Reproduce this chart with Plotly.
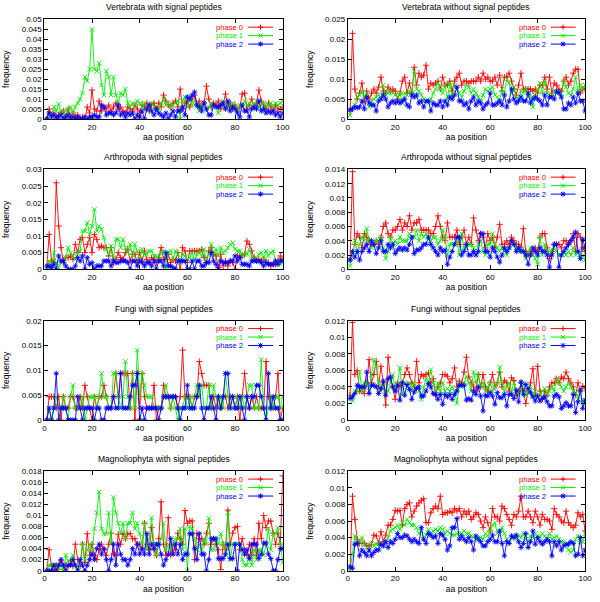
import plotly.graph_objects as go

positions = list(range(1, 101))
phase_names = ["phase 0", "phase 1", "phase 2"]

panel_titles = [
    "Vertebrata with signal peptides", "Vertebrata without signal peptides",
    "Arthropoda with signal peptides", "Arthropoda without signal peptides",
    "Fungi with signal peptides", "Fungi without signal peptides",
    "Magnoliophyta with signal peptides", "Magnoliophyta without signal peptides",
]
y_max = [0.05, 0.025, 0.03, 0.014, 0.02, 0.012, 0.018, 0.012]
y_step = [0.005, 0.005, 0.005, 0.002, 0.005, 0.002, 0.002, 0.002]
x_ticks = [0, 20, 40, 60, 80, 100]

vert_sp_0 = [0.0, 0.005, 0.002, 0.003, 0.0, 0.002, 0.003, 0.004, 0.001, 0.005,
             0.001, 0.003, 0.001, 0.002, 0.0, 0.001, 0.0, 0.006, 0.003, 0.0145,
             0.005, 0.004, 0.009, 0.004, 0.006, 0.005, 0.007, 0.004, 0.006, 0.008,
             0.005, 0.006, 0.004, 0.003, 0.006, 0.005, 0.004, 0.007, 0.005, 0.003,
             0.007, 0.006, 0.008, 0.004, 0.007, 0.008, 0.005, 0.008, 0.006, 0.012,
             0.009, 0.007, 0.006, 0.008, 0.009, 0.006, 0.015, 0.005, 0.008, 0.009,
             0.006, 0.01, 0.012, 0.007, 0.009, 0.006, 0.008, 0.0165, 0.01, 0.006,
             0.008, 0.007, 0.009, 0.005, 0.007, 0.0125, 0.006, 0.008, 0.005, 0.007,
             0.004, 0.006, 0.0125, 0.013, 0.005, 0.007, 0.01, 0.006, 0.008, 0.0145,
             0.009, 0.007, 0.005, 0.008, 0.006, 0.004, 0.007, 0.005, 0.005, 0.006]
vert_sp_1 = [0.0, 0.003, 0.002, 0.006, 0.004, 0.0075, 0.003, 0.004, 0.002, 0.005,
             0.006, 0.003, 0.006, 0.008, 0.01, 0.013, 0.021, 0.019, 0.025, 0.045,
             0.025, 0.024, 0.028, 0.017, 0.012, 0.024, 0.021, 0.012, 0.021, 0.012,
             0.008, 0.013, 0.012, 0.015, 0.008, 0.006, 0.008, 0.007, 0.009, 0.008,
             0.006, 0.008, 0.004, 0.006, 0.008, 0.006, 0.004, 0.005, 0.008, 0.01,
             0.007, 0.008, 0.006, 0.007, 0.008, 0.009, 0.0, 0.009, 0.011, 0.006,
             0.011, 0.007, 0.009, 0.006, 0.004, 0.007, 0.008, 0.004, 0.006, 0.008,
             0.007, 0.006, 0.003, 0.007, 0.009, 0.006, 0.007, 0.005, 0.008, 0.006,
             0.004, 0.007, 0.006, 0.009, 0.007, 0.008, 0.006, 0.007, 0.009, 0.006,
             0.007, 0.008, 0.006, 0.007, 0.008, 0.006, 0.008, 0.007, 0.008, 0.009]
vert_sp_2 = [0.0, 0.003, 0.001, 0.002, 0.001, 0.001, 0.002, 0.0, 0.001, 0.002,
             0.0, 0.001, 0.0, 0.001, 0.0, 0.0, 0.001, 0.0, 0.001, 0.001,
             0.002, 0.001, 0.001, 0.007, 0.006, 0.002, 0.003, 0.003, 0.002, 0.003,
             0.007, 0.002, 0.003, 0.001, 0.003, 0.002, 0.003, 0.0, 0.002, 0.001,
             0.004, 0.0, 0.005, 0.007, 0.004, 0.002, 0.005, 0.003, 0.002, 0.001,
             0.003, 0.0, 0.002, 0.004, 0.001, 0.004, 0.004, 0.006, 0.002, 0.011,
             0.01, 0.012, 0.0135, 0.007, 0.006, 0.004, 0.008, 0.005, 0.002, 0.002,
             0.007, 0.006, 0.006, 0.007, 0.008, 0.005, 0.009, 0.004, 0.006, 0.005,
             0.003, 0.001, 0.007, 0.004, 0.004, 0.001, 0.005, 0.006, 0.005, 0.009,
             0.004, 0.005, 0.003, 0.004, 0.003, 0.004, 0.002, 0.003, 0.001, 0.003]

vert_nosp_0 = [0.002, 0.0215, 0.0075, 0.005, 0.0065, 0.009, 0.0045, 0.007, 0.005, 0.0065,
               0.0075, 0.0065, 0.008, 0.0105, 0.007, 0.0065, 0.008, 0.007, 0.0075, 0.007,
               0.005, 0.0065, 0.0095, 0.0105, 0.0065, 0.009, 0.0065, 0.013, 0.0085, 0.0115,
               0.0105, 0.011, 0.0135, 0.0075, 0.009, 0.0085, 0.009, 0.0095, 0.0075, 0.0105,
               0.0085, 0.0085, 0.0095, 0.007, 0.0095, 0.0105, 0.0115, 0.0085, 0.0095, 0.0095,
               0.009, 0.0095, 0.0095, 0.0095, 0.0105, 0.0095, 0.0115, 0.01, 0.0105, 0.0095,
               0.0095, 0.0105, 0.0085, 0.011, 0.007, 0.0105, 0.0105, 0.0115, 0.0095, 0.0075,
               0.006, 0.0085, 0.0115, 0.0075, 0.0075, 0.0075, 0.0075, 0.007, 0.0075, 0.0065,
               0.0085, 0.0085, 0.0105, 0.0075, 0.0105, 0.0065, 0.009, 0.0085, 0.0075, 0.007,
               0.0095, 0.0105, 0.0085, 0.0095, 0.0115, 0.0125, 0.0125, 0.0065, 0.0075, 0.0075]
vert_nosp_1 = [0.001, 0.003, 0.0035, 0.0055, 0.006, 0.007, 0.0055, 0.0065, 0.003, 0.0045,
               0.005, 0.0055, 0.006, 0.005, 0.0085, 0.006, 0.0065, 0.007, 0.0065, 0.006,
               0.0055, 0.0065, 0.004, 0.0065, 0.006, 0.007, 0.0065, 0.012, 0.0075, 0.007,
               0.006, 0.005, 0.0045, 0.004, 0.005, 0.0065, 0.0075, 0.009, 0.0075, 0.0065,
               0.0085, 0.005, 0.009, 0.0055, 0.0085, 0.0075, 0.0065, 0.0055, 0.007, 0.0085,
               0.008, 0.0065, 0.0075, 0.0065, 0.0055, 0.0045, 0.006, 0.0075, 0.007, 0.0075,
               0.008, 0.006, 0.0055, 0.0045, 0.0075, 0.0065, 0.01, 0.009, 0.0065, 0.008,
               0.0055, 0.005, 0.007, 0.0065, 0.0075, 0.0055, 0.006, 0.003, 0.006, 0.0075,
               0.009, 0.0065, 0.0095, 0.0065, 0.006, 0.0055, 0.007, 0.0065, 0.007, 0.0055,
               0.0095, 0.008, 0.0065, 0.006, 0.0075, 0.0105, 0.007, 0.0085, 0.0075, 0.0085]
vert_nosp_2 = [0.0023, 0.0025, 0.003, 0.0028, 0.003, 0.0045, 0.0025, 0.0055, 0.004, 0.0035,
               0.0035, 0.002, 0.0045, 0.005, 0.006, 0.005, 0.003, 0.004, 0.0045, 0.004,
               0.0045, 0.004, 0.0045, 0.005, 0.0035, 0.003, 0.006, 0.0055, 0.006, 0.004,
               0.0045, 0.003, 0.0045, 0.0045, 0.002, 0.004, 0.0035, 0.0035, 0.0045, 0.003,
               0.0045, 0.0035, 0.0055, 0.005, 0.006, 0.008, 0.0045, 0.0045, 0.0035, 0.004,
               0.0025, 0.0045, 0.0055, 0.0035, 0.0045, 0.004, 0.0025, 0.0035, 0.004, 0.0065,
               0.0035, 0.0035, 0.004, 0.0045, 0.0035, 0.006, 0.003, 0.0045, 0.0075, 0.005,
               0.004, 0.0045, 0.0055, 0.0045, 0.0045, 0.0065, 0.004, 0.005, 0.0055, 0.005,
               0.0045, 0.0035, 0.006, 0.0035, 0.0055, 0.0055, 0.005, 0.007, 0.0065, 0.0055,
               0.0025, 0.0025, 0.004, 0.0035, 0.0055, 0.004, 0.0065, 0.0045, 0.0045, 0.002]

arth_sp_0 = [0.0, 0.0105, 0.0025, 0.002, 0.026, 0.013, 0.0065, 0.002, 0.0035, 0.0035,
             0.004, 0.003, 0.0075, 0.005, 0.009, 0.0095, 0.005, 0.0075, 0.0095, 0.005,
             0.0105, 0.009, 0.0065, 0.007, 0.0065, 0.0065, 0.004, 0.0065, 0.002, 0.003,
             0.005, 0.0035, 0.003, 0.005, 0.006, 0.0025, 0.0045, 0.0045, 0.002, 0.005,
             0.0025, 0.0055, 0.003, 0.002, 0.0035, 0.003, 0.002, 0.0035, 0.0065, 0.003,
             0.003, 0.0045, 0.002, 0.003, 0.0025, 0.005, 0.0, 0.0065, 0.0055, 0.002,
             0.0055, 0.0055, 0.0055, 0.0055, 0.0055, 0.006, 0.0035, 0.002, 0.0055, 0.0065,
             0.0045, 0.004, 0.0005, 0.0045, 0.001, 0.0025, 0.001, 0.0025, 0.002, 0.0,
             0.004, 0.004, 0.004, 0.0045, 0.0085, 0.0075, 0.0055, 0.0035, 0.0025, 0.003,
             0.0025, 0.003, 0.002, 0.002, 0.001, 0.0015, 0.0015, 0.0025, 0.004, 0.003]
arth_sp_1 = [0.0, 0.0025, 0.001, 0.005, 0.002, 0.0005, 0.002, 0.0025, 0.0035, 0.0065,
             0.005, 0.004, 0.003, 0.005, 0.0055, 0.0115, 0.0115, 0.014, 0.0105, 0.013,
             0.018, 0.0115, 0.013, 0.012, 0.0095, 0.006, 0.0045, 0.007, 0.0035, 0.009,
             0.009, 0.0065, 0.009, 0.0065, 0.005, 0.0075, 0.004, 0.0075, 0.0055, 0.003,
             0.006, 0.0045, 0.0045, 0.0055, 0.0055, 0.004, 0.004, 0.003, 0.005, 0.0055,
             0.0, 0.005, 0.0055, 0.003, 0.0055, 0.0045, 0.002, 0.0045, 0.004, 0.003,
             0.0035, 0.005, 0.003, 0.0045, 0.0055, 0.004, 0.006, 0.0025, 0.0045, 0.0075,
             0.0045, 0.006, 0.004, 0.0065, 0.005, 0.0055, 0.0065, 0.0075, 0.008, 0.006,
             0.0055, 0.0055, 0.004, 0.0045, 0.0045, 0.006, 0.004, 0.0025, 0.0035, 0.0045,
             0.005, 0.003, 0.0055, 0.004, 0.005, 0.0055, 0.0025, 0.002, 0.0015, 0.003]
arth_sp_2 = [0.001, 0.001, 0.0005, 0.0015, 0.0, 0.004, 0.0025, 0.0025, 0.001, 0.0,
             0.0, 0.0, 0.001, 0.0035, 0.0025, 0.004, 0.0, 0.0035, 0.0015, 0.002,
             0.0, 0.001, 0.001, 0.001, 0.0025, 0.0025, 0.0025, 0.001, 0.0025, 0.002,
             0.002, 0.0025, 0.0025, 0.0025, 0.002, 0.0, 0.0025, 0.0025, 0.001, 0.0025,
             0.002, 0.001, 0.002, 0.002, 0.001, 0.0025, 0.0, 0.0025, 0.0025, 0.001,
             0.005, 0.001, 0.001, 0.0005, 0.0, 0.0025, 0.0025, 0.0025, 0.0025, 0.0,
             0.0, 0.0025, 0.0, 0.0025, 0.0025, 0.001, 0.001, 0.002, 0.002, 0.005,
             0.0025, 0.0015, 0.0, 0.0025, 0.002, 0.002, 0.002, 0.0025, 0.0025, 0.004,
             0.0025, 0.0035, 0.0015, 0.0015, 0.0015, 0.001, 0.0025, 0.0025, 0.0025, 0.0025,
             0.002, 0.001, 0.002, 0.0015, 0.0015, 0.0015, 0.0025, 0.0015, 0.0025, 0.0025]

arth_nosp_0 = [0.0013, 0.0137, 0.0035, 0.005, 0.0045, 0.003, 0.005, 0.0045, 0.004, 0.0035,
               0.0035, 0.004, 0.0035, 0.0045, 0.006, 0.0065, 0.005, 0.0045, 0.0055, 0.0055,
               0.006, 0.007, 0.0055, 0.0065, 0.006, 0.0075, 0.0055, 0.0065, 0.0065, 0.007,
               0.0055, 0.0055, 0.0055, 0.0055, 0.005, 0.005, 0.006, 0.0075, 0.006, 0.0045,
               0.004, 0.0065, 0.0045, 0.0045, 0.0045, 0.0055, 0.0035, 0.0045, 0.0055, 0.0035,
               0.0045, 0.0035, 0.0072, 0.0055, 0.004, 0.005, 0.0045, 0.003, 0.005, 0.004,
               0.0045, 0.003, 0.0045, 0.0063, 0.0035, 0.0035, 0.004, 0.0035, 0.0045, 0.004,
               0.0035, 0.0035, 0.003, 0.0057, 0.0025, 0.002, 0.0025, 0.0025, 0.003, 0.0025,
               0.0045, 0.005, 0.005, 0.003, 0.0015, 0.0025, 0.0035, 0.0035, 0.0035, 0.003,
               0.004, 0.004, 0.0035, 0.004, 0.005, 0.0025, 0.005, 0.0045, 0.003, 0.0025]
arth_nosp_1 = [0.0005, 0.002, 0.004, 0.0025, 0.0035, 0.0045, 0.004, 0.0057, 0.004, 0.003,
               0.0035, 0.004, 0.004, 0.0045, 0.003, 0.0015, 0.0025, 0.0045, 0.0035, 0.004,
               0.0035, 0.0045, 0.004, 0.004, 0.004, 0.005, 0.0045, 0.0045, 0.0055, 0.004,
               0.005, 0.0045, 0.005, 0.0045, 0.004, 0.0045, 0.0045, 0.0035, 0.004, 0.0055,
               0.0045, 0.002, 0.0035, 0.0035, 0.0035, 0.004, 0.002, 0.005, 0.003, 0.003,
               0.0035, 0.0035, 0.003, 0.002, 0.0035, 0.004, 0.0025, 0.002, 0.0035, 0.0035,
               0.005, 0.0035, 0.003, 0.0025, 0.003, 0.003, 0.002, 0.003, 0.0035, 0.0035,
               0.003, 0.0025, 0.003, 0.0025, 0.0015, 0.0025, 0.003, 0.002, 0.0015, 0.0007,
               0.0045, 0.002, 0.0035, 0.0025, 0.0025, 0.0025, 0.003, 0.0025, 0.002, 0.002,
               0.0025, 0.002, 0.0025, 0.002, 0.003, 0.002, 0.0025, 0.0015, 0.002, 0.0013]
arth_nosp_2 = [0.0013, 0.0025, 0.0017, 0.0025, 0.0013, 0.0025, 0.003, 0.0035, 0.0025, 0.004,
               0.0035, 0.0022, 0.003, 0.004, 0.0025, 0.0025, 0.0035, 0.003, 0.0035, 0.0022,
               0.0027, 0.003, 0.0027, 0.003, 0.0027, 0.0035, 0.0045, 0.0022, 0.0027, 0.0027,
               0.003, 0.0035, 0.0035, 0.0045, 0.0035, 0.003, 0.0025, 0.002, 0.003, 0.0025,
               0.0027, 0.0007, 0.0017, 0.0025, 0.0035, 0.0045, 0.0045, 0.002, 0.0025, 0.0035,
               0.002, 0.002, 0.0025, 0.002, 0.0025, 0.005, 0.005, 0.0025, 0.0025, 0.0017,
               0.003, 0.0025, 0.0017, 0.001, 0.002, 0.003, 0.0025, 0.003, 0.004, 0.0035,
               0.0025, 0.003, 0.0025, 0.0025, 0.002, 0.0007, 0.002, 0.003, 0.0025, 0.002,
               0.003, 0.0025, 0.0025, 0.002, 0.0003, 0.002, 0.0035, 0.0035, 0.0003, 0.002,
               0.0025, 0.003, 0.0035, 0.004, 0.0045, 0.0052, 0.0025, 0.0015, 0.0042, 0.003]

fungi_sp_0 = [0.0, 0.0047, 0.0047, 0.0047, 0.0024, 0.0047, 0.0, 0.0047, 0.0024, 0.0024,
              0.0047, 0.0047, 0.0024, 0.0024, 0.0047, 0.0024, 0.007, 0.0047, 0.0024, 0.0,
              0.0047, 0.0024, 0.0047, 0.0047, 0.007, 0.0047, 0.0024, 0.0024, 0.0047, 0.0094,
              0.0047, 0.0094, 0.0094, 0.0094, 0.0094, 0.0024, 0.0094, 0.0, 0.0094, 0.0024,
              0.0094, 0.0047, 0.0024, 0.0024, 0.0024, 0.007, 0.0, 0.0024, 0.0024, 0.007,
              0.0047, 0.0047, 0.0024, 0.0047, 0.0047, 0.0024, 0.0047, 0.0141, 0.0047, 0.0047,
              0.0047, 0.0024, 0.0047, 0.0047, 0.0118, 0.0094, 0.007, 0.007, 0.007, 0.0024,
              0.0047, 0.0024, 0.0047, 0.0024, 0.0047, 0.0047, 0.0024, 0.0047, 0.0047, 0.0024,
              0.0047, 0.0, 0.0047, 0.0094, 0.0047, 0.0024, 0.0047, 0.0024, 0.0047, 0.0024,
              0.0024, 0.0024, 0.0118, 0.0047, 0.0024, 0.0024, 0.0047, 0.0094, 0.0, 0.0024]
fungi_sp_1 = [0.0, 0.0024, 0.0, 0.0024, 0.0047, 0.0024, 0.0024, 0.0047, 0.0024, 0.0,
              0.0047, 0.007, 0.0024, 0.0024, 0.0024, 0.0047, 0.0, 0.0024, 0.0047, 0.0047,
              0.0047, 0.0024, 0.0047, 0.0094, 0.0047, 0.0047, 0.0024, 0.0024, 0.0094, 0.0094,
              0.0047, 0.0024, 0.0047, 0.0118, 0.0047, 0.0024, 0.0094, 0.0024, 0.0141, 0.0047,
              0.0094, 0.007, 0.0047, 0.0047, 0.0047, 0.0024, 0.0024, 0.0024, 0.0024, 0.0047,
              0.007, 0.0047, 0.0024, 0.0047, 0.0024, 0.0, 0.0024, 0.0024, 0.0047, 0.0024,
              0.0047, 0.0024, 0.0047, 0.007, 0.0047, 0.007, 0.0024, 0.0024, 0.007, 0.0024,
              0.007, 0.0047, 0.0024, 0.0047, 0.0024, 0.0094, 0.0047, 0.0024, 0.0047, 0.0024,
              0.0047, 0.0024, 0.0047, 0.0024, 0.0047, 0.007, 0.007, 0.0024, 0.0024, 0.0024,
              0.0122, 0.0024, 0.0, 0.0024, 0.0047, 0.0024, 0.0047, 0.0047, 0.0024, 0.0047]
fungi_sp_2 = [0.0, 0.0024, 0.0, 0.0024, 0.0094, 0.0, 0.0024, 0.0024, 0.0024, 0.0,
              0.0, 0.0, 0.0, 0.0047, 0.0024, 0.0, 0.0024, 0.0024, 0.0024, 0.0024,
              0.0, 0.0024, 0.0024, 0.0, 0.0, 0.0024, 0.0024, 0.0024, 0.0047, 0.0024,
              0.0024, 0.0094, 0.0024, 0.0024, 0.0024, 0.0047, 0.007, 0.007, 0.0094, 0.0,
              0.0024, 0.0, 0.0024, 0.0024, 0.0024, 0.0024, 0.0024, 0.0, 0.0024, 0.0047,
              0.0047, 0.0047, 0.0047, 0.0047, 0.0047, 0.0024, 0.0, 0.0024, 0.0024, 0.007,
              0.0024, 0.0024, 0.0024, 0.0047, 0.007, 0.0024, 0.0, 0.0024, 0.0024, 0.0047,
              0.0024, 0.0, 0.0047, 0.0024, 0.0047, 0.0094, 0.0094, 0.0024, 0.0047, 0.0024,
              0.0024, 0.0047, 0.0024, 0.0, 0.0047, 0.0024, 0.0047, 0.0047, 0.007, 0.007,
              0.0047, 0.0024, 0.0, 0.0094, 0.0024, 0.0047, 0.0024, 0.0024, 0.0, 0.0]

fungi_nosp_0 = [0.003, 0.0118, 0.0055, 0.006, 0.0035, 0.0035, 0.0032, 0.0045, 0.0073, 0.0045,
                0.0055, 0.0071, 0.004, 0.0065, 0.0045, 0.0018, 0.0076, 0.005, 0.004, 0.0025,
                0.0045, 0.004, 0.0045, 0.0055, 0.0063, 0.0055, 0.0045, 0.004, 0.0071, 0.0045,
                0.0055, 0.0053, 0.0055, 0.0057, 0.0045, 0.005, 0.003, 0.004, 0.0045, 0.0055,
                0.0055, 0.0053, 0.0045, 0.005, 0.0063, 0.004, 0.0047, 0.0045, 0.0058, 0.0076,
                0.0052, 0.0045, 0.004, 0.0035, 0.0055, 0.004, 0.0055, 0.004, 0.0035, 0.0045,
                0.0055, 0.004, 0.0045, 0.0058, 0.004, 0.0048, 0.0045, 0.0035, 0.0051, 0.0048,
                0.003, 0.0035, 0.0045, 0.0035, 0.002, 0.0035, 0.0045, 0.0062, 0.003, 0.0065,
                0.0035, 0.0025, 0.0035, 0.003, 0.004, 0.0045, 0.0045, 0.005, 0.0045, 0.0052,
                0.005, 0.0058, 0.005, 0.0045, 0.004, 0.003, 0.0045, 0.0035, 0.0041, 0.0038]
fungi_nosp_1 = [0.0028, 0.0023, 0.0035, 0.0035, 0.0058, 0.0035, 0.0045, 0.0045, 0.0035, 0.0055,
                0.0073, 0.0065, 0.0045, 0.0035, 0.0045, 0.0035, 0.0035, 0.0045, 0.0055, 0.0035,
                0.0045, 0.0063, 0.003, 0.0045, 0.004, 0.0045, 0.0035, 0.0045, 0.004, 0.0035,
                0.0025, 0.004, 0.005, 0.0045, 0.0061, 0.0045, 0.0035, 0.0045, 0.0035, 0.0045,
                0.0035, 0.0038, 0.0035, 0.004, 0.0035, 0.002, 0.0045, 0.004, 0.0045, 0.0053,
                0.0045, 0.0035, 0.0058, 0.0045, 0.0055, 0.004, 0.0045, 0.0035, 0.004, 0.0045,
                0.0035, 0.004, 0.0045, 0.0064, 0.0045, 0.0035, 0.004, 0.0045, 0.0035, 0.0045,
                0.0035, 0.003, 0.0035, 0.0045, 0.003, 0.0035, 0.004, 0.003, 0.0035, 0.0027,
                0.003, 0.0035, 0.0038, 0.003, 0.0035, 0.004, 0.0035, 0.005, 0.0045, 0.004,
                0.0035, 0.004, 0.0045, 0.004, 0.0035, 0.0033, 0.0025, 0.0035, 0.0021, 0.0022]
fungi_nosp_2 = [0.0026, 0.0028, 0.0032, 0.0042, 0.004, 0.004, 0.004, 0.0058, 0.0032, 0.0042,
                0.0042, 0.004, 0.0032, 0.0038, 0.0047, 0.003, 0.005, 0.0052, 0.004, 0.0035,
                0.0042, 0.0024, 0.0045, 0.003, 0.0043, 0.0037, 0.0025, 0.0034, 0.0038, 0.004,
                0.0029, 0.0029, 0.0035, 0.0044, 0.004, 0.0032, 0.0031, 0.0025, 0.0031, 0.0019,
                0.0031, 0.0028, 0.0031, 0.0025, 0.0031, 0.0035, 0.0042, 0.0042, 0.0042, 0.0024,
                0.0026, 0.0024, 0.0035, 0.0031, 0.004, 0.0029, 0.0011, 0.003, 0.0029, 0.0033,
                0.0029, 0.0019, 0.0033, 0.0027, 0.0027, 0.0031, 0.0017, 0.0031, 0.0031, 0.0026,
                0.0036, 0.0022, 0.0046, 0.0031, 0.0043, 0.0038, 0.0033, 0.0028, 0.0023, 0.0029,
                0.0023, 0.0026, 0.0028, 0.0022, 0.0017, 0.0017, 0.0029, 0.0031, 0.0028, 0.0014,
                0.0017, 0.0021, 0.0017, 0.0017, 0.0031, 0.0009, 0.0022, 0.0036, 0.0014, 0.0024]

magn_sp_0 = [0.0, 0.0038, 0.0008, 0.0, 0.001, 0.0008, 0.0018, 0.0002, 0.001, 0.0008,
             0.0018, 0.0008, 0.0048, 0.002, 0.0008, 0.0048, 0.0015, 0.0067, 0.0028, 0.0048,
             0.0028, 0.002, 0.0038, 0.0048, 0.0038, 0.0028, 0.0048, 0.0068, 0.003, 0.0028,
             0.0066, 0.0048, 0.0067, 0.0058, 0.0067, 0.0067, 0.0058, 0.0058, 0.0048, 0.0048,
             0.0038, 0.0086, 0.0048, 0.0038, 0.0078, 0.0038, 0.0028, 0.0058, 0.0125, 0.0048,
             0.0028, 0.0096, 0.0028, 0.0048, 0.0038, 0.0068, 0.0058, 0.0048, 0.0109, 0.0086,
             0.009, 0.009, 0.002, 0.0068, 0.0058, 0.0058, 0.0048, 0.0068, 0.0086, 0.0048,
             0.0058, 0.0048, 0.0038, 0.0002, 0.0048, 0.0038, 0.011, 0.0048, 0.0068, 0.0078,
             0.008, 0.0038, 0.0058, 0.0038, 0.0028, 0.0048, 0.0028, 0.0058, 0.0028, 0.0086,
             0.0058, 0.01, 0.0078, 0.009, 0.009, 0.0068, 0.0048, 0.0068, 0.0048, 0.0172]
magn_sp_1 = [0.0, 0.001, 0.001, 0.001, 0.001, 0.0, 0.001, 0.0, 0.0028, 0.0018,
             0.001, 0.0028, 0.001, 0.0, 0.001, 0.0048, 0.002, 0.0038, 0.0048, 0.0028,
             0.0076, 0.0105, 0.0143, 0.0076, 0.0067, 0.0067, 0.0105, 0.0048, 0.0133, 0.0105,
             0.0086, 0.0067, 0.0086, 0.0058, 0.0086, 0.0086, 0.0105, 0.0076, 0.0086, 0.0067,
             0.0048, 0.0086, 0.0038, 0.0058, 0.0096, 0.0048, 0.0028, 0.0048, 0.0058, 0.0086,
             0.0038, 0.0048, 0.0038, 0.0048, 0.0058, 0.0058, 0.0076, 0.0038, 0.0076, 0.0,
             0.008, 0.0076, 0.0058, 0.0038, 0.0048, 0.0038, 0.0058, 0.0048, 0.0095, 0.0038,
             0.0038, 0.0058, 0.0048, 0.0067, 0.0048, 0.0028, 0.0105, 0.002, 0.0048, 0.0048,
             0.0048, 0.0048, 0.002, 0.001, 0.001, 0.0028, 0.001, 0.0038, 0.002, 0.0038,
             0.0038, 0.0028, 0.0048, 0.0076, 0.0038, 0.0067, 0.0067, 0.0078, 0.0048, 0.0015]
magn_sp_2 = [0.0, 0.0, 0.0, 0.001, 0.0, 0.001, 0.002, 0.001, 0.0, 0.001,
             0.001, 0.002, 0.001, 0.0, 0.002, 0.001, 0.0, 0.001, 0.002, 0.003,
             0.002, 0.004, 0.0048, 0.003, 0.004, 0.002, 0.0, 0.002, 0.0048, 0.001,
             0.0048, 0.003, 0.002, 0.002, 0.001, 0.002, 0.004, 0.003, 0.0048, 0.003,
             0.004, 0.003, 0.0067, 0.003, 0.0048, 0.004, 0.0048, 0.0048, 0.003, 0.001,
             0.002, 0.003, 0.0058, 0.003, 0.0048, 0.003, 0.0048, 0.002, 0.003, 0.003,
             0.0067, 0.0067, 0.004, 0.002, 0.0067, 0.003, 0.003, 0.0, 0.002, 0.0058,
             0.0058, 0.0058, 0.0022, 0.0022, 0.0022, 0.003, 0.0048, 0.0022, 0.0022, 0.0048,
             0.0, 0.0048, 0.0038, 0.003, 0.0038, 0.0022, 0.0048, 0.0048, 0.0048, 0.0022,
             0.003, 0.005, 0.005, 0.003, 0.0022, 0.0, 0.0, 0.002, 0.004, 0.004]

magn_nosp_0 = [0.0003, 0.009, 0.0062, 0.0038, 0.0033, 0.0033, 0.0033, 0.003, 0.003, 0.0032,
               0.0043, 0.0042, 0.0033, 0.0047, 0.0035, 0.0043, 0.0055, 0.0055, 0.0062, 0.0073,
               0.0072, 0.0073, 0.0055, 0.0075, 0.008, 0.0082, 0.0065, 0.0072, 0.0078, 0.0082,
               0.0085, 0.0087, 0.0058, 0.0058, 0.007, 0.0075, 0.0078, 0.0075, 0.009, 0.0068,
               0.007, 0.007, 0.0072, 0.007, 0.0075, 0.0072, 0.0075, 0.0065, 0.0072, 0.0068,
               0.0072, 0.0062, 0.0065, 0.007, 0.0068, 0.006, 0.0052, 0.0065, 0.0058, 0.0048,
               0.0075, 0.0065, 0.0065, 0.006, 0.0078, 0.0075, 0.0068, 0.0062, 0.0055, 0.0068,
               0.0065, 0.0072, 0.009, 0.0065, 0.0065, 0.0072, 0.0065, 0.0058, 0.0072, 0.0065,
               0.0055, 0.0068, 0.0062, 0.0062, 0.006, 0.005, 0.0075, 0.0068, 0.0065, 0.006,
               0.0058, 0.0072, 0.0058, 0.0055, 0.0052, 0.0055, 0.007, 0.0065, 0.0068, 0.0048]
magn_nosp_1 = [0.0, 0.002, 0.0042, 0.0032, 0.0035, 0.004, 0.0032, 0.0028, 0.0025, 0.0033,
               0.003, 0.0032, 0.0032, 0.0032, 0.003, 0.0035, 0.004, 0.0048, 0.005, 0.0052,
               0.0055, 0.005, 0.0058, 0.0055, 0.0062, 0.0058, 0.0055, 0.0055, 0.0052, 0.0045,
               0.0048, 0.0038, 0.0043, 0.005, 0.0045, 0.0048, 0.005, 0.0048, 0.0052, 0.005,
               0.0045, 0.0048, 0.0045, 0.0043, 0.0043, 0.0045, 0.0045, 0.0045, 0.0048, 0.0045,
               0.0045, 0.0042, 0.004, 0.0038, 0.004, 0.004, 0.0038, 0.0045, 0.0042, 0.0048,
               0.0055, 0.0058, 0.0045, 0.0048, 0.0052, 0.0045, 0.0038, 0.0035, 0.004, 0.0042,
               0.0038, 0.0042, 0.004, 0.0045, 0.0038, 0.0035, 0.0042, 0.004, 0.0045, 0.0042,
               0.004, 0.0045, 0.0042, 0.0038, 0.0045, 0.0038, 0.004, 0.0042, 0.0038, 0.0035,
               0.0035, 0.0032, 0.0025, 0.0022, 0.0025, 0.0038, 0.0042, 0.0035, 0.0035, 0.0045]
magn_nosp_2 = [0.0005, 0.0003, 0.0032, 0.0033, 0.0018, 0.0025, 0.0022, 0.0018, 0.0025, 0.0018,
               0.0022, 0.0025, 0.0025, 0.0032, 0.003, 0.0035, 0.0028, 0.0035, 0.0033, 0.0038,
               0.0045, 0.004, 0.004, 0.0043, 0.0042, 0.0038, 0.0035, 0.0038, 0.0035, 0.0033,
               0.0052, 0.0038, 0.0033, 0.0045, 0.0043, 0.004, 0.0042, 0.0033, 0.0045, 0.0043,
               0.0038, 0.0025, 0.003, 0.0052, 0.0052, 0.0063, 0.0038, 0.0042, 0.0038, 0.0035,
               0.004, 0.0035, 0.0025, 0.0042, 0.0038, 0.0035, 0.003, 0.003, 0.0035, 0.0038,
               0.0043, 0.0035, 0.0035, 0.0048, 0.0033, 0.0018, 0.0035, 0.0033, 0.0042, 0.004,
               0.0043, 0.0035, 0.0028, 0.0033, 0.0045, 0.0028, 0.0035, 0.0048, 0.0032, 0.004,
               0.0035, 0.0032, 0.0035, 0.0038, 0.0035, 0.0018, 0.0035, 0.003, 0.0035, 0.0025,
               0.003, 0.0032, 0.0032, 0.0035, 0.0033, 0.0018, 0.002, 0.004, 0.0018, 0.0025]

panel_series = [
    (vert_sp_0, vert_sp_1, vert_sp_2), (vert_nosp_0, vert_nosp_1, vert_nosp_2),
    (arth_sp_0, arth_sp_1, arth_sp_2), (arth_nosp_0, arth_nosp_1, arth_nosp_2),
    (fungi_sp_0, fungi_sp_1, fungi_sp_2), (fungi_nosp_0, fungi_nosp_1, fungi_nosp_2),
    (magn_sp_0, magn_sp_1, magn_sp_2), (magn_nosp_0, magn_nosp_1, magn_nosp_2),
]
for s in panel_series:
    for arr in s:
        assert len(arr) == 100, len(arr)

# ---- styling / layout ----
W, H = 600, 602
FONT = "Liberation Sans, Arial, Helvetica, sans-serif"
colors = ["#ff0000", "#00ee00", "#0000ff"]
symbols = ["cross-thin-open", "x-thin-open", "asterisk-open"]
col_px = [(43, 285), (351, 592)]
row_px = [(15.7, 116.7), (168, 269.3), (321.7, 422.3), (474.5, 575.3)]
legend_paths = [
    "M-2.5,0 L2.5,0 M0,-2.5 L0,2.5",
    "M-2,-2 L2,2 M-2,2 L2,-2",
    "M-2.5,0 L2.5,0 M0,-2.5 L0,2.5 M-2,-2 L2,2 M-2,2 L2,-2",
]

fig = go.Figure()
layout = dict(
    width=W, height=H, margin=dict(l=0, r=0, t=0, b=0),
    paper_bgcolor="white", plot_bgcolor="white", showlegend=False,
    font=dict(family=FONT, size=8.5, color="black"),
)
annotations, shapes = [], []

for i in range(8):
    r, c = divmod(i, 2)
    ax = "" if i == 0 else str(i + 1)
    x0, x1 = col_px[c]
    t, b = row_px[r]
    xd = [x0 / W, x1 / W]
    yd = [1 - b / H, 1 - t / H]
    for k in range(3):
        fig.add_trace(go.Scatter(
            x=positions, y=panel_series[i][k], mode="lines+markers",
            name=phase_names[k], xaxis="x" + ax, yaxis="y" + ax,
            line=dict(color=colors[k], width=0.9),
            marker=dict(symbol=symbols[k], size=4.5, color=colors[k],
                        line=dict(color=colors[k], width=0.9)),
        ))
    layout["xaxis" + ax] = dict(
        domain=xd, anchor="y" + ax, range=[0, 100], tickvals=x_ticks,
        showline=True, linecolor="black", linewidth=1, mirror="ticks",
        ticks="inside", ticklen=4, tickcolor="black", showgrid=False, zeroline=False,
        tickfont=dict(size=8, family=FONT),
        title=dict(text="aa position", font=dict(size=8.5, family=FONT), standoff=3),
    )
    layout["yaxis" + ax] = dict(
        domain=yd, anchor="x" + ax, range=[0, y_max[i]], dtick=y_step[i], tick0=0,
        showline=True, linecolor="black", linewidth=1, mirror="ticks",
        ticks="inside", ticklen=4, tickcolor="black", showgrid=False, zeroline=False,
        tickfont=dict(size=8, family=FONT),
        title=dict(text="frequency", font=dict(size=8.5, family=FONT), standoff=10),
    )
    annotations.append(dict(
        text=panel_titles[i], xref="paper", yref="paper",
        x=(xd[0] + xd[1]) / 2, y=yd[1], xanchor="center", yanchor="middle",
        yshift=12, showarrow=False, font=dict(size=8.5, family=FONT),
    ))
    xr, yr = "x" + ax + " domain", "y" + ax + " domain"
    ph = b - t
    for k in range(3):
        yy = 1 - (7.8 + 8.6 * k) / ph
        annotations.append(dict(
            text=phase_names[k], xref=xr, yref=yr, x=0.838, y=yy,
            xanchor="right", yanchor="middle", showarrow=False,
            borderpad=0, font=dict(size=7.6, family=FONT, color=colors[k]),
        ))
        shapes.append(dict(type="line", xref=xr, yref=yr, x0=0.855, x1=0.96,
                           y0=yy, y1=yy, line=dict(color=colors[k], width=1)))
        shapes.append(dict(type="path", xref=xr, yref=yr, xsizemode="pixel",
                           ysizemode="pixel", xanchor=0.907, yanchor=yy,
                           path=legend_paths[k], line=dict(color=colors[k], width=1)))

layout["annotations"] = annotations
layout["shapes"] = shapes
fig.update_layout(**layout)
fig.write_html("out.html", config={"displayModeBar": False},
               post_script="document.body.style.margin='0px';document.body.style.overflow='hidden';")
